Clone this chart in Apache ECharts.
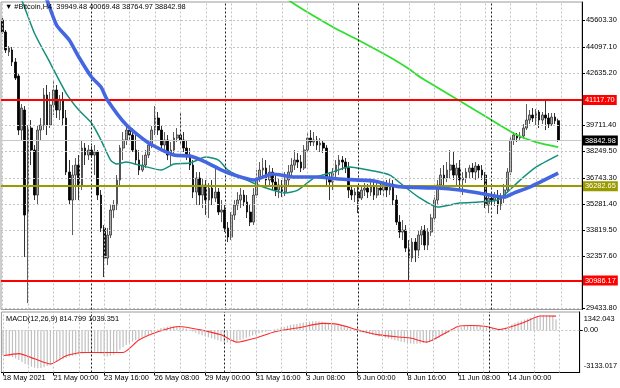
<!DOCTYPE html>
<html><head><meta charset="utf-8">
<script src="https://cdn.jsdelivr.net/npm/echarts@6/dist/echarts.min.js"></script>
<style>html,body{margin:0;padding:0;background:#fff}#c{width:620px;height:388px}</style>
</head><body><div id="c"></div>
<script>
const symbolName = '#Bitcoin,H4';
const startTimeUTC = Date.UTC(2021, 4, 18, 8, 0);
const totalSlots = 183;
// [open, close, low, high]
const ohlc = [
[45603,44929,44817,45715],[44929,43919,43751,45041],[43807,44031,43582,44144],[43919,43246,43021,44087],[43246,42347,42235,43470],
[42460,39429,39149,42572],[39429,40664,38868,40889],[40552,34659,32302,40776],[34771,39542,29721,39710],[39542,38307,37465,39991],
[38307,35782,35501,38588],[35782,39429,35220,39710],[39429,39710,38868,40103],[39710,41394,39429,41787],[41394,39710,39149,41955],
[39710,40832,39542,41562],[40832,41674,40271,42235],[41674,40552,40103,41955],[40552,41113,39991,41394],[41113,40103,39710,41562],
[40103,37072,36904,40552],[37072,35501,35220,37746],[35501,36904,33537,37465],[36904,37465,35501,37858],[37465,36343,35501,38026],
[36343,38419,36062,38868],[38419,38026,37465,38700],[38026,38307,37746,38588],[38307,38026,37858,38531],[38026,38195,36904,38588],
[38195,35782,35501,38307],[35782,33930,33705,36062],[33930,32246,31180,34098],[32246,33537,31853,33930],[33537,34940,33369,35220],
[34940,35220,34491,35501],[35220,36623,34940,36904],[36623,38419,36343,38588],[38419,38868,37746,39317],[38868,39429,38588,39710],
[39429,39149,38868,39654],[39149,38307,38195,39542],[38307,37746,37465,39149],[37746,37185,36904,38307],[37185,37465,37072,38026],
[37465,38026,37297,38307],[38026,38588,37858,38868],[38588,39429,38419,39654],[39429,40103,39149,40776],[40103,39429,39149,40440],
[39429,38588,38419,39710],[38588,38868,38195,39317],[38868,38026,37746,39149],[38026,38307,37465,38756],[38307,38980,38026,39317],
[38980,39149,38756,39542],[39149,38868,38588,40440],[38868,38419,38195,39317],[38419,38026,37746,38868],[38026,37465,37185,38419],
[37465,35950,35613,37746],[35950,36736,35220,37072],[36736,35782,35220,37072],[35782,36343,35052,36736],[36343,35501,34659,36623],
[35501,36174,34491,36455],[36174,35613,35220,36623],[35613,35950,35389,37297],[35950,34828,34659,36174],[34828,34940,34266,35501],
[34940,33930,33705,35220],[33930,33425,33144,34266],[33425,34659,33256,34828],[34659,35220,34379,35501],[35220,35501,34940,35950],
[35501,35782,35052,36174],[35782,35389,35164,36062],[35389,34828,34491,35782],[34828,34266,34042,35220],[34266,35782,34098,36174],
[35782,36736,35613,37185],[36736,37185,36511,37634],[37185,37297,36736,37858],[37297,36623,36343,37746],[36623,37072,36287,37465],
[37072,36511,36062,37297],[36511,36062,35726,36904],[36062,36343,35613,36736],[36343,35950,35669,36623],[35950,36623,35726,37072],
[36623,37072,36343,37465],[37072,37465,36848,37858],[37465,37746,37185,38307],[37746,37634,37297,38139],[37634,37297,37072,38026],
[37297,38307,37185,38588],[38307,38980,38195,39317],[38980,38756,38531,39429],[38756,38868,38531,39317],[38868,38588,38307,39093],
[38588,38700,38195,38980],[38700,38419,38139,38868],[38419,36736,36343,38588],[36736,36511,35501,37072],[36511,37072,36062,37297],
[37072,37465,36736,37746],[37465,37746,36904,38026],[37746,37634,37185,37970],[37634,37297,37016,37858],[37297,36062,35613,37634],
[36062,35782,35501,36343],[35782,35950,35389,36174],[35950,35613,34771,36287],[35613,36062,35501,36343],[36062,36174,35726,36455],
[36174,35950,35613,36399],[35950,36287,35726,36511],[36287,35782,35501,36511],[35782,36174,35613,36511],[36174,36062,35782,36455],
[36062,36343,35726,36623],[36343,36062,35669,36623],[36062,36399,35782,36736],[36399,35501,35220,36623],[35501,34266,34098,35782],
[34266,33705,33369,34659],[33705,33817,33256,34379],[33817,32807,32583,34098],[32807,32246,31011,33256],[32246,33144,32022,33369],
[33144,32695,32022,33369],[32695,33537,32246,33817],[33537,33817,32976,34042],[33817,32976,32695,34098],[32976,33705,32695,33930],
[33705,34491,33481,34715],[34491,35501,34266,35782],[35501,36343,35220,36623],[36343,36904,36062,37297],[36904,36736,36343,37465],
[36736,37185,36511,37634],[37185,37465,36736,38307],[37465,36904,36623,38195],[36904,37297,36343,37577],[37297,36623,36062,37746],
[36623,36736,35782,37072],[36736,37072,36455,37297],[37072,37297,36736,37465],[37297,37072,36736,37577],[37072,37409,36623,37634],
[37409,37185,36736,37521],[37185,36904,36623,37465],[36904,35220,35052,37072],[35220,35613,34771,35838],[35613,35501,35220,35894],
[35501,35726,35164,35950],[35726,35220,34715,36062],[35220,35613,34940,35894],[35613,36062,35333,36399],[36062,37072,35894,37297],
[37072,38868,36904,39037],[38868,39149,38588,39317],[39149,38980,38756,39261],[38980,39093,38812,39317],[39093,39542,38924,39766],
[39542,39991,39429,40889],[39991,40271,39766,40552],[40271,40103,39878,40664],[40103,40440,39710,40608],[40440,39991,39542,40552],
[39991,40271,39766,40440],[40271,40103,39429,41113],[40103,39766,39542,40383],[39766,40159,39654,40383],[40159,39949,39766,40383],
[39949.48,38842.98,38764.97,40069.48]
];
// moving averages: [barIndex, price]
const maBlue = [[12,47623],[14,46725],[17,45322],[21,44480],[24,43526],[28,42404],[31,41843],[33,41113],[39,39710],[46,38700],[54,38026],[59,37970],[64,37634],[69,37185],[73,36904],[79,36623],[85,36960],[92,36792],[99,36792],[106,36680],[117,36567],[122,36343],[126,36231],[137,36174],[144,36062],[150,35894],[158,35669],[161,35894],[166,36231],[175,37016]];
const maTeal = [[4,47286],[6,46725],[10,44873],[15,43189],[20,41506],[24,40552],[28,39822],[31,38868],[34,37746],[36,37521],[39,37634],[43,37465],[50,37185],[54,37521],[59,37577],[64,37914],[68,37746],[71,37185],[79,36455],[85,36062],[89,35894],[93,36062],[98,36736],[103,37016],[109,37353],[117,37128],[122,36904],[126,36343],[131,35669],[137,35108],[144,35333],[150,35389],[156,35501],[159,35950],[163,36623],[168,37353],[175,38026]];
const maGreen = [[85,47567],[90,46725],[104,45210],[112,44480],[123,43414],[128,42853],[132,42348],[143,41169],[154,39991],[162,39149],[168,38756],[175,38475]];
const macdMain = [
-1850,-1900,-1950,-2000,-2100,-2200,-2350,-2500,-2600,-2700,
-2780,-2820,-2800,-2750,-2650,-2550,-2450,-2350,-2250,-2150,
-2050,-1950,-1900,-1850,-1800,-1750,-1700,-1650,-1600,-1600,
-1650,-1750,-1900,-1950,-1900,-1800,-1650,-1450,-1250,-1100,
-950,-850,-750,-650,-550,-450,-350,-200,-50,50,
150,200,250,280,300,290,260,200,120,20,
-100,-200,-300,-380,-450,-520,-600,-680,-750,-820,
-880,-920,-900,-860,-800,-720,-640,-560,-480,-400,
-320,-250,-180,-120,-60,0,60,130,200,260,
320,380,430,480,520,560,600,630,650,660,
650,620,560,480,420,380,340,300,240,160,
80,0,-80,-150,-200,-250,-300,-350,-400,-450,
-500,-560,-620,-680,-740,-800,-860,-900,-950,-980,
-1000,-1000,-980,-960,-940,-900,-820,-700,-560,-420,
-300,-180,-80,20,120,220,300,350,380,380,
360,330,280,220,180,150,120,110,130,180,
300,420,520,620,700,780,850,920,980,1030,
1070,1100,1110,1110,1080,814.799
];
const macdSignal = [[0,-1890],[5,-1736],[10,-2122],[15,-2508],[20,-1890],[25,-1659],[31,-1659],[38,-1659],[43,-733],[49,-116],[56,270],[62,39],[69,-347],[74,-887],[80,-579],[86,-116],[94,193],[101,502],[106,424],[113,-39],[119,-347],[125,-502],[129,-579],[134,-887],[139,-347],[144,270],[148,347],[153,270],[157,39],[160,193],[165,579],[170,1042],[175,1039.351]];
const yTicks = [29433.8,32357.6,33819.5,35281.4,36743.3,38249.5,39711.4,42635.2,44097.1,45603.3];
const macdTicks = [-3133.017, 0, 1342.043];
const resistance = 41117.70, support = 30986.17, pivot = 36282.65;
const xTickLabels = ['18 May 2021','21 May 00:00','23 May 16:00','26 May 08:00','29 May 00:00','31 May 16:00','3 Jun 08:00','6 Jun 00:00','8 Jun 16:00','11 Jun 08:00','14 Jun 00:00'];
const labelEvery = 16, gridEvery = 8;
const weekSeparators = [28,70,112,154];

const pad = n => String(n).padStart(2,'0');
const cats = [];
for (let i = 0; i < totalSlots; i++) {
  const d = new Date(startTimeUTC + i * 4 * 3600e3);
  cats.push(d.getUTCFullYear()+'.'+pad(d.getUTCMonth()+1)+'.'+pad(d.getUTCDate())+' '+pad(d.getUTCHours())+':00');
}
const last = ohlc[ohlc.length-1];
const bid = last[1];
const FONT = 'Liberation Sans, Arial, sans-serif';
const FS = 7.4;

const vGridIdx = [];
for (let i = 0; i < totalSlots; i += gridEvery) vGridIdx.push(i);
const gridLineStyle = {color:'#c4c4c4', type:[2,2], width:1};
const sepStyle = {color:'#222', type:[2,2], width:1};
const vMarks = vGridIdx.map(i => ({xAxis:i, lineStyle: gridLineStyle}))
  .concat(weekSeparators.map(i => ({xAxis:i, lineStyle: sepStyle})));

const priceLabel = (bg) => ({show:true, position:'end', distance:1, formatter: p => p.value.toFixed(2),
  color:'#fff', backgroundColor:bg, padding:[2,2,1,2], fontSize:FS, fontFamily:FONT});

const chart = echarts.init(document.getElementById('c'), null, {renderer:'canvas'});
chart.setOption({
  animation:false,
  backgroundColor:'#fff',
  textStyle:{fontFamily:FONT},
  title:[
    {text:'\u25BC ' + symbolName + '  ' + last[0].toFixed(2)+' '+last[3].toFixed(2)+' '+last[2].toFixed(2)+' '+last[1].toFixed(2),
     left:5, top:3, padding:0, textStyle:{fontSize:FS, fontWeight:'normal', color:'#000', fontFamily:FONT}},
    {text:'MACD(12,26,9) '+macdMain[macdMain.length-1].toFixed(3)+' '+macdSignal[macdSignal.length-1][1].toFixed(3),
     left:6, top:315, padding:0, textStyle:{fontSize:FS, fontWeight:'normal', color:'#000', fontFamily:FONT}}
  ],
  grid:[
    {left:1, width:581, top:2, height:307.5, show:true, borderColor:'#9a9a9a', borderWidth:1},
    {left:1, width:581, top:312, height:60.5, show:true, borderColor:'#9a9a9a', borderWidth:1}
  ],
  xAxis:[
    {gridIndex:0, type:'category', data:cats, boundaryGap:true, axisLine:{show:false}, axisTick:{show:false}, axisLabel:{show:false}, splitLine:{show:false}},
    {gridIndex:1, type:'category', data:cats, boundaryGap:true,
     axisLine:{show:true, onZero:false, lineStyle:{color:'#000'}},
     axisTick:{show:true, alignWithLabel:true, length:3, interval:(i)=> i%labelEvery===0 && i/labelEvery < xTickLabels.length, lineStyle:{color:'#000'}},
     axisLabel:{show:true, interval:(i)=> i%labelEvery===0 && i/labelEvery < xTickLabels.length, formatter:(v,i)=> xTickLabels[i/labelEvery] || '',
       align:'left', margin:2, fontSize:FS, color:'#000', fontFamily:FONT},
     splitLine:{show:false}}
  ],
  yAxis:[
    {gridIndex:0, type:'value', position:'right', min:29360.9, max:46613, scale:true,
     axisLine:{show:true, lineStyle:{color:'#000'}},
     axisTick:{show:true, length:3, customValues:yTicks, lineStyle:{color:'#000'}},
     axisLabel:{show:true, customValues:yTicks, formatter:v=>v.toFixed(2), margin:4, fontSize:FS, color:'#000', fontFamily:FONT},
     splitLine:{show:false}},
    {gridIndex:1, type:'value', position:'right', min:-3133.017, max:1342.043,
     axisLine:{show:true, lineStyle:{color:'#000'}},
     axisTick:{show:true, length:3, customValues:[0], lineStyle:{color:'#000'}},
     axisLabel:{show:true, customValues:macdTicks, margin:4, fontSize:FS, color:'#000', fontFamily:FONT,
       formatter:v=> v>0 ? '{t|'+v.toFixed(3)+'}' : (v<0 ? '{b|'+v.toFixed(3)+'}' : '0.00'),
       rich:{t:{fontSize:FS, color:'#000', fontFamily:FONT, padding:[14,0,0,0]}, b:{fontSize:FS, color:'#000', fontFamily:FONT, padding:[0,0,13,0]}}},
     splitLine:{show:false}}
  ],
  series:[
    {type:'line', xAxisIndex:0, yAxisIndex:0, data:[], z:1, silent:true,
     markLine:{symbol:'none', silent:true, animation:false, label:{show:false},
       data: vMarks.concat(yTicks.map(v=>({yAxis:v, lineStyle:gridLineStyle})))}},
    {type:'line', xAxisIndex:1, yAxisIndex:1, data:[], z:1, silent:true,
     markLine:{symbol:'none', silent:true, animation:false, label:{show:false},
       data: vMarks.concat([{yAxis:0, lineStyle:gridLineStyle}])}},
    {type:'line', xAxisIndex:0, yAxisIndex:0, data:[], z:2, silent:true,
     markLine:{symbol:'none', silent:true, animation:false,
       data:[{yAxis:bid, lineStyle:{color:'#c8c8c8', type:'solid', width:1}, label:priceLabel('#000')}]}},
    {type:'candlestick', xAxisIndex:0, yAxisIndex:0, data:ohlc, barWidth:2.2, z:3,
     itemStyle:{color:'#a8a8a8', color0:'#000', borderColor:'#333', borderColor0:'#000', borderWidth:0.8}},
    {type:'line', xAxisIndex:0, yAxisIndex:0, data:maGreen, showSymbol:false, smooth:0.2, z:4, lineStyle:{color:'#2ee02e', width:1.8}},
    {type:'line', xAxisIndex:0, yAxisIndex:0, data:maTeal, showSymbol:false, smooth:0.2, z:4, lineStyle:{color:'#13907c', width:1.5}},
    {type:'line', xAxisIndex:0, yAxisIndex:0, data:maBlue, showSymbol:false, smooth:0.2, z:5, lineStyle:{color:'#4466e0', width:3.6}},
    {type:'line', xAxisIndex:0, yAxisIndex:0, data:[], z:6, silent:true,
     markLine:{symbol:'none', silent:true, animation:false,
       data:[
         {yAxis:resistance, lineStyle:{color:'#ff0000', type:'solid', width:2}, label:priceLabel('#ff0000')},
         {yAxis:support, lineStyle:{color:'#ff0000', type:'solid', width:2}, label:priceLabel('#ff0000')},
         {yAxis:pivot, lineStyle:{color:'#999900', type:'solid', width:2}, label:priceLabel('#999900')}
       ]}},
    {type:'bar', xAxisIndex:1, yAxisIndex:1, data:macdMain, barWidth:1.2, z:3, itemStyle:{color:'#c0c0c0', borderWidth:0, opacity:1}},
    {type:'line', xAxisIndex:1, yAxisIndex:1, data:macdSignal, showSymbol:false, smooth:0.2, z:4, lineStyle:{color:'#ff2a2a', width:1.1}}
  ]
});
</script>
</body></html>
